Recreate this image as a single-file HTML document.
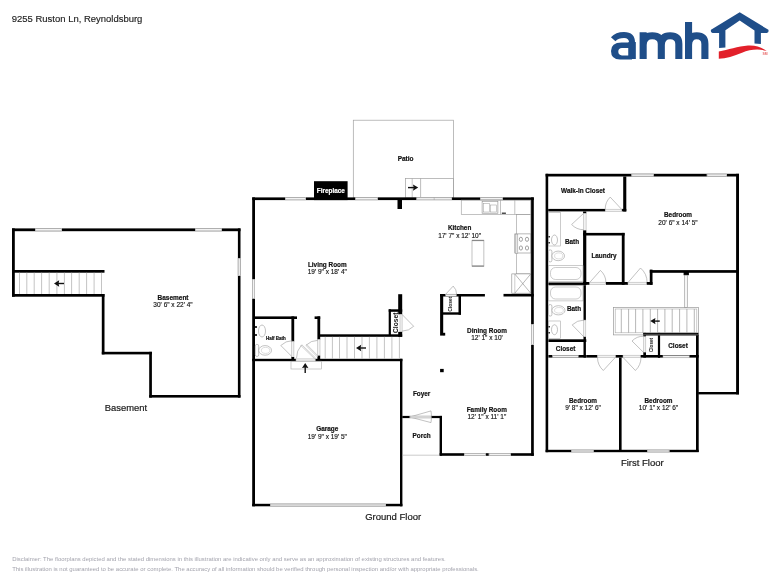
<!DOCTYPE html>
<html><head><meta charset="utf-8"><style>
html,body{margin:0;padding:0;background:#fff;width:784px;height:588px;overflow:hidden}
svg{display:block;font-family:"Liberation Sans",sans-serif;will-change:transform}
</style></head><body>
<svg width="784" height="588" viewBox="0 0 784 588" font-family="Liberation Sans, sans-serif">
<rect width="784" height="588" fill="#fff"/>
<text x="11.8" y="22" font-size="9.6" font-weight="normal" fill="#222" text-anchor="start" stroke="#222" stroke-width="0.15" textLength="130.6" lengthAdjust="spacingAndGlyphs">9255 Ruston Ln, Reynoldsburg</text>
<path d="M613.2,39.3 Q617,35 624,35 Q632.1,35 632.1,43 L632.1,59" fill="none" stroke="#1f4e89" stroke-width="6"/>
<path fill-rule="evenodd" fill="#1f4e89" d="M632,42.4 L621.5,42.4 Q611,42.4 611,51 Q611,59.5 620,59.5 L632,59.5 Z M628.6,47.9 L622,47.9 Q618.3,47.9 618.3,51.6 Q618.3,55.4 622,55.4 L628.6,55.4 Z"/>
<rect x="628.4" y="42" width="7.4" height="17" fill="#1f4e89"/>
<path d="M643.15,59 L643.15,32.3 M643.15,45 Q643.15,35.8 652.2,35.8 Q661.3,35.8 661.3,44 L661.3,59 M661.3,45 Q661.3,35.8 670.1,35.8 Q678.85,35.8 678.85,44 L678.85,59" fill="none" stroke="#1f4e89" stroke-width="7.1"/>
<path d="M688.55,59 L688.55,22.1 M688.55,45 Q688.55,35.8 696.7,35.8 Q704.9,35.8 704.9,44 L704.9,59" fill="none" stroke="#1f4e89" stroke-width="7.1"/>
<path d="M712.6,33 Q710.2,32.5 711,29.8 L739.7,12.3 L768.4,29.8 Q769.2,32.5 766.8,33 L760.9,33 L760.9,44 L754.5,43.4 L754.5,30.6 L739.7,20.6 L725.4,30.2 L725.4,47.5 L719.1,47.9 L719.1,33 Z" fill="#1f4e89"/>
<path d="M718.8,51.4 C728,50.2 738,46.3 748,45.6 C756,45.1 762,47.6 766.6,50.9 C758.5,48.6 750,49.4 742,52.8 C734,56.3 726,58.4 718.8,58.8 Z" fill="#e2202a"/>
<text x="765" y="54.6" font-size="3.4" font-weight="bold" fill="#e86a6a" text-anchor="middle">SM</text>
<rect x="12" y="228.4" width="228.5" height="2.8" fill="#000"/>
<rect x="12" y="228.4" width="2.8" height="68.3" fill="#000"/>
<rect x="12" y="270" width="92.5" height="2.7" fill="#000"/>
<rect x="12" y="294" width="92.5" height="2.7" fill="#000"/>
<rect x="101.8" y="294" width="2.7" height="60.4" fill="#000"/>
<rect x="101.8" y="351.8" width="50.1" height="2.6" fill="#000"/>
<rect x="149.2" y="351.8" width="2.7" height="45.8" fill="#000"/>
<rect x="149.2" y="395" width="91.3" height="2.6" fill="#000"/>
<rect x="237.9" y="228.4" width="2.6" height="169.2" fill="#000"/>
<rect x="35" y="228.4" width="27" height="2.8" fill="#fff"/>
<rect x="35.3" y="228.70000000000002" width="26.4" height="2.2" fill="#f3f3f3" stroke="#999" stroke-width="0.6"/>
<rect x="195" y="228.4" width="27" height="2.8" fill="#fff"/>
<rect x="195.3" y="228.70000000000002" width="26.4" height="2.2" fill="#f3f3f3" stroke="#999" stroke-width="0.6"/>
<rect x="237.9" y="258" width="2.6" height="18" fill="#fff"/>
<rect x="238.20000000000002" y="258.3" width="2.0" height="17.4" fill="#f3f3f3" stroke="#999" stroke-width="0.6"/>
<line x1="19.5" y1="272.7" x2="19.5" y2="294" stroke="#aaa" stroke-width="0.7"/>
<line x1="26.8" y1="272.7" x2="26.8" y2="294" stroke="#aaa" stroke-width="0.7"/>
<line x1="34.2" y1="272.7" x2="34.2" y2="294" stroke="#aaa" stroke-width="0.7"/>
<line x1="41.6" y1="272.7" x2="41.6" y2="294" stroke="#aaa" stroke-width="0.7"/>
<line x1="49.2" y1="272.7" x2="49.2" y2="294" stroke="#aaa" stroke-width="0.7"/>
<line x1="56.9" y1="272.7" x2="56.9" y2="294" stroke="#aaa" stroke-width="0.7"/>
<line x1="64.4" y1="272.7" x2="64.4" y2="294" stroke="#aaa" stroke-width="0.7"/>
<line x1="71.6" y1="272.7" x2="71.6" y2="294" stroke="#aaa" stroke-width="0.7"/>
<line x1="79.2" y1="272.7" x2="79.2" y2="294" stroke="#aaa" stroke-width="0.7"/>
<line x1="86.6" y1="272.7" x2="86.6" y2="294" stroke="#aaa" stroke-width="0.7"/>
<line x1="94.1" y1="272.7" x2="94.1" y2="294" stroke="#aaa" stroke-width="0.7"/>
<line x1="101.5" y1="272.7" x2="101.5" y2="294" stroke="#aaa" stroke-width="0.7"/>
<path d="M64.0,283.5 L56.0,283.5" stroke="#111" stroke-width="1.4"/>
<path d="M54.0,283.5 L59.2,280.3 L58.576,283.5 L59.2,286.7 Z" fill="#111"/>
<text x="173" y="299.9" font-size="6.5" font-weight="bold" fill="#111" text-anchor="middle" stroke="#111" stroke-width="0.18" >Basement</text>
<text x="173" y="306.9" font-size="6.5" font-weight="normal" fill="#111" text-anchor="middle" stroke="#111" stroke-width="0.14" >30' 6" x 22' 4"</text>
<text x="104.8" y="411.1" font-size="9.4" font-weight="normal" fill="#1a1a1a" text-anchor="start" stroke="#1a1a1a" stroke-width="0.2">Basement</text>
<rect x="353.3" y="120.2" width="100.2" height="77.8" fill="none" stroke="#a0a0a0" stroke-width="0.7"/>
<rect x="405.6" y="178.4" width="47.9" height="19.6" fill="none" stroke="#a0a0a0" stroke-width="0.7"/>
<line x1="420.6" y1="178.4" x2="420.6" y2="198" stroke="#a0a0a0" stroke-width="0.7"/>
<line x1="412.2" y1="178.4" x2="412.2" y2="198" stroke="#a0a0a0" stroke-width="0.6"/>
<path d="M408.0,187.6 L416.20000000000005,187.6" stroke="#111" stroke-width="1.4"/>
<path d="M418.20000000000005,187.6 L413.00000000000006,184.4 L413.624,187.6 L413.00000000000006,190.79999999999998 Z" fill="#111"/>
<text x="405.6" y="161.2" font-size="6.5" font-weight="bold" fill="#111" text-anchor="middle" stroke="#111" stroke-width="0.18" >Patio</text>
<rect x="252.2" y="197.4" width="281.6" height="2.7" fill="#000"/>
<rect x="285" y="197.4" width="21" height="2.7" fill="#fff"/>
<rect x="285.3" y="197.70000000000002" width="20.4" height="2.1" fill="#f3f3f3" stroke="#999" stroke-width="0.6"/>
<rect x="355.3" y="197.4" width="22.5" height="2.7" fill="#fff"/>
<rect x="355.6" y="197.70000000000002" width="21.9" height="2.1" fill="#f3f3f3" stroke="#999" stroke-width="0.6"/>
<rect x="480" y="197.4" width="22.8" height="2.7" fill="#fff"/>
<rect x="480.3" y="197.70000000000002" width="22.2" height="2.1" fill="#f3f3f3" stroke="#999" stroke-width="0.6"/>
<rect x="416.5" y="197.4" width="35.5" height="2.7" fill="#fff"/>
<rect x="416.8" y="197.7" width="35" height="2.1" fill="#eee" stroke="#999" stroke-width="0.5"/>
<line x1="434.2" y1="197.6" x2="434.2" y2="200" stroke="#999" stroke-width="0.5"/>
<rect x="314" y="181.2" width="33.6" height="18.9" fill="#000"/>
<text x="330.8" y="193.4" font-size="6.4" font-weight="bold" fill="#fff" text-anchor="middle" stroke="#fff" stroke-width="0.18" >Fireplace</text>
<rect x="252.2" y="197.4" width="2.8" height="308.9" fill="#000"/>
<rect x="252.2" y="279" width="2.8" height="19.7" fill="#fff"/>
<rect x="252.5" y="279.3" width="2.2" height="19.1" fill="#f3f3f3" stroke="#999" stroke-width="0.6"/>
<rect x="531.1" y="197.4" width="2.7" height="258.4" fill="#000"/>
<rect x="531.1" y="324" width="2.7" height="21" fill="#fff"/>
<rect x="531.4" y="324.3" width="2.1" height="20.4" fill="#f3f3f3" stroke="#999" stroke-width="0.6"/>
<rect x="397.5" y="200" width="4.5" height="9" fill="#000"/>
<rect x="255" y="316.4" width="42" height="2.6" fill="#000"/>
<rect x="291.4" y="316.4" width="2.8" height="25.1" fill="#000"/>
<rect x="291.7" y="341.5" width="2.2" height="15.8" fill="#f2f2f2" stroke="#aaa" stroke-width="0.5"/>
<rect x="291.4" y="357" width="2.8" height="4" fill="#000"/>
<rect x="252.2" y="358.8" width="43.8" height="2.4" fill="#000"/>
<rect x="315.2" y="358.8" width="87.2" height="2.4" fill="#000"/>
<rect x="296" y="358.9" width="19.2" height="2.2" fill="#f2f2f2" stroke="#aaa" stroke-width="0.5"/>
<rect x="314.6" y="316.4" width="5.6" height="2.6" fill="#000"/>
<rect x="317.4" y="316.4" width="2.8" height="23.1" fill="#000"/>
<rect x="317.6" y="339.5" width="2.4" height="16.4" fill="#f2f2f2" stroke="#aaa" stroke-width="0.5"/>
<rect x="317.4" y="355.7" width="2.8" height="5.3" fill="#000"/>
<path d="M292.3,357 L280.8,345.5 A16.26,16.26 0 0 1 292.3,340.7" fill="none" stroke="#999" stroke-width="0.6"/>
<path d="M315.42,357.87 L301.82,344.77 L300.98,345.63 L314.58,358.73 Z" fill="#fff" stroke="#999" stroke-width="0.5"/>
<path d="M301.4,345.2 A18.88,18.88 0 0 0 296.5,358.3" fill="none" stroke="#999" stroke-width="0.6"/>
<path d="M318.03,355.88 L306.83,344.58 L305.97,345.42 L317.17,356.72 Z" fill="#fff" stroke="#999" stroke-width="0.5"/>
<path d="M306.4,345 A15.91,15.91 0 0 1 317.6,340.4" fill="none" stroke="#999" stroke-width="0.6"/>
<rect x="320" y="334.3" width="82.2" height="2.5" fill="#000"/>
<line x1="325.2" y1="336.8" x2="325.2" y2="358.8" stroke="#aaa" stroke-width="0.7"/>
<line x1="332.4" y1="336.8" x2="332.4" y2="358.8" stroke="#aaa" stroke-width="0.7"/>
<line x1="339.5" y1="336.8" x2="339.5" y2="358.8" stroke="#aaa" stroke-width="0.7"/>
<line x1="347" y1="336.8" x2="347" y2="358.8" stroke="#aaa" stroke-width="0.7"/>
<line x1="354.5" y1="336.8" x2="354.5" y2="358.8" stroke="#aaa" stroke-width="0.7"/>
<line x1="362" y1="336.8" x2="362" y2="358.8" stroke="#aaa" stroke-width="0.7"/>
<line x1="369.4" y1="336.8" x2="369.4" y2="358.8" stroke="#aaa" stroke-width="0.7"/>
<line x1="376.9" y1="336.8" x2="376.9" y2="358.8" stroke="#aaa" stroke-width="0.7"/>
<line x1="384.4" y1="336.8" x2="384.4" y2="358.8" stroke="#aaa" stroke-width="0.7"/>
<line x1="391.9" y1="336.8" x2="391.9" y2="358.8" stroke="#aaa" stroke-width="0.7"/>
<line x1="399.4" y1="336.8" x2="399.4" y2="358.8" stroke="#aaa" stroke-width="0.7"/>
<path d="M366.0,348 L358.0,348" stroke="#111" stroke-width="1.4"/>
<path d="M356.0,348 L361.2,344.8 L360.576,348 L361.2,351.2 Z" fill="#111"/>
<rect x="388.7" y="309.3" width="2.2" height="26.7" fill="#000"/>
<rect x="388.7" y="309.3" width="13.5" height="2.5" fill="#000"/>
<rect x="398.2" y="294.2" width="4.0" height="20.1" fill="#000"/>
<rect x="400" y="314.3" width="2.1" height="17.7" fill="#f2f2f2" stroke="#aaa" stroke-width="0.5"/>
<rect x="398.2" y="331.9" width="4.0" height="4.9" fill="#000"/>
<path d="M402.1,314.5 L413.7,326.3 A16.55,16.55 0 0 1 402.1,331.1" fill="none" stroke="#999" stroke-width="0.6"/>
<text x="0" y="0" font-size="6.7" font-weight="bold" fill="#111" text-anchor="middle" transform="translate(397.8,322.8) rotate(-90)">Closet</text>
<ellipse cx="262" cy="331" rx="3.5" ry="6" fill="none" stroke="#999" stroke-width="0.6"/>
<rect x="255" y="326" width="2" height="2" fill="#333"/>
<rect x="255" y="334" width="2" height="2" fill="#333"/>
<rect x="255.3" y="344.4" width="3.4" height="12" rx="1.5" fill="#fff" stroke="#999" stroke-width="0.6"/>
<ellipse cx="265.1" cy="350.4" rx="6.4" ry="4.8" fill="#fff" stroke="#999" stroke-width="0.6"/>
<ellipse cx="265.6" cy="350.4" rx="4.2" ry="3.0" fill="none" stroke="#bbb" stroke-width="0.5"/>
<text x="276" y="340.4" font-size="4.5" font-weight="bold" fill="#111" text-anchor="middle" stroke="#111" stroke-width="0.18" >Half Bath</text>
<rect x="291" y="361.2" width="30.3" height="7.8" fill="none" stroke="#aaa" stroke-width="0.6"/>
<path d="M305.2,372.9 L305.2,364.9" stroke="#111" stroke-width="1.4"/>
<path d="M305.2,362.9 L302.0,368.09999999999997 L305.2,367.476 L308.4,368.09999999999997 Z" fill="#111"/>
<rect x="400" y="358.8" width="2.4" height="147.5" fill="#000"/>
<rect x="252.2" y="503.8" width="150.2" height="2.5" fill="#000"/>
<rect x="270" y="503.8" width="116" height="2.5" fill="#fff"/>
<rect x="270.3" y="504.1" width="115.4" height="1.9" fill="#f3f3f3" stroke="#999" stroke-width="0.6"/>
<text x="327.3" y="431.3" font-size="6.4" font-weight="bold" fill="#111" text-anchor="middle" stroke="#111" stroke-width="0.18" >Garage</text>
<text x="327.3" y="438.8" font-size="6.5" font-weight="normal" fill="#111" text-anchor="middle" stroke="#111" stroke-width="0.14" >19' 9" x 19' 5"</text>
<text x="327.3" y="266.6" font-size="6.4" font-weight="bold" fill="#111" text-anchor="middle" stroke="#111" stroke-width="0.18" >Living Room</text>
<text x="327.3" y="273.9" font-size="6.5" font-weight="normal" fill="#111" text-anchor="middle" stroke="#111" stroke-width="0.14" >19' 9" x 18' 4"</text>
<rect x="461.25" y="200.1" width="69.45" height="14.2" fill="none" stroke="#999" stroke-width="0.6"/>
<line x1="500.5" y1="200.1" x2="500.5" y2="214.3" stroke="#999" stroke-width="0.6"/>
<line x1="514.8" y1="200.1" x2="514.8" y2="214.3" stroke="#999" stroke-width="0.6"/>
<rect x="482.1" y="201.25" width="15.8" height="11.95" fill="none" stroke="#888" stroke-width="0.6"/>
<rect x="483.5" y="203.5" width="6" height="8.5" fill="none" stroke="#999" stroke-width="0.5"/>
<rect x="490.5" y="205" width="6" height="7" fill="none" stroke="#999" stroke-width="0.5"/>
<rect x="501.8" y="212.6" width="4.1" height="1.2" fill="#222"/>
<rect x="516.6" y="214.3" width="14.1" height="59.6" fill="none" stroke="#999" stroke-width="0.6"/>
<rect x="514.8" y="233.9" width="15.9" height="19.1" fill="#fff" stroke="#888" stroke-width="0.6"/>
<rect x="515.3" y="234.2" width="2.5" height="19.2" fill="#e6e6e6" stroke="#999" stroke-width="0.5"/>
<ellipse cx="520.9" cy="239.3" rx="1.6" ry="2.1" fill="none" stroke="#666" stroke-width="0.6"/>
<ellipse cx="520.9" cy="248" rx="1.6" ry="2.1" fill="none" stroke="#666" stroke-width="0.6"/>
<ellipse cx="527" cy="239.3" rx="1.6" ry="2.1" fill="none" stroke="#666" stroke-width="0.6"/>
<ellipse cx="527" cy="248" rx="1.6" ry="2.1" fill="none" stroke="#666" stroke-width="0.6"/>
<rect x="511.8" y="273.9" width="18.9" height="19.3" fill="#fff" stroke="#888" stroke-width="0.6"/>
<line x1="514.8" y1="274" x2="514.8" y2="293.2" stroke="#aaa" stroke-width="0.6"/>
<line x1="514.8" y1="274" x2="530.7" y2="293.2" stroke="#888" stroke-width="0.6"/>
<line x1="530.7" y1="274" x2="514.8" y2="293.2" stroke="#888" stroke-width="0.6"/>
<rect x="472" y="240.2" width="11.9" height="26.2" fill="none" stroke="#999" stroke-width="0.6"/>
<line x1="472" y1="240.5" x2="483.9" y2="240.5" stroke="#888" stroke-width="1.2"/>
<line x1="472" y1="266" x2="483.9" y2="266" stroke="#888" stroke-width="1.2"/>
<text x="459.6" y="230.2" font-size="6.4" font-weight="bold" fill="#111" text-anchor="middle" stroke="#111" stroke-width="0.18" >Kitchen</text>
<text x="459.6" y="237.9" font-size="6.5" font-weight="normal" fill="#111" text-anchor="middle" stroke="#111" stroke-width="0.14" >17' 7" x 12' 10"</text>
<rect x="440.1" y="294" width="44.8" height="2.5" fill="#000"/>
<rect x="503.5" y="293.9" width="30.3" height="2.6" fill="#000"/>
<rect x="440.1" y="294" width="3.1" height="41.6" fill="#000"/>
<rect x="443" y="332.8" width="2.2" height="2.8" fill="#000"/>
<rect x="458.5" y="294" width="2.5" height="20.7" fill="#000"/>
<rect x="443" y="312.3" width="18" height="2.4" fill="#000"/>
<rect x="445.7" y="294.2" width="10.7" height="2" fill="#f2f2f2" stroke="#aaa" stroke-width="0.5"/>
<path d="M445.7,294.2 L453.2,286.1 A11.04,11.04 0 0 1 456.6,294.2" fill="none" stroke="#999" stroke-width="0.6"/>
<text x="0" y="0" font-size="5" font-weight="bold" fill="#111" text-anchor="middle" transform="translate(452.3,304.2) rotate(-90)">Closet</text>
<rect x="440.1" y="368.9" width="3.6" height="3.3" fill="#000"/>
<text x="487" y="332.8" font-size="6.4" font-weight="bold" fill="#111" text-anchor="middle" stroke="#111" stroke-width="0.18" >Dining Room</text>
<text x="487" y="340.2" font-size="6.5" font-weight="normal" fill="#111" text-anchor="middle" stroke="#111" stroke-width="0.14" >12' 1" x 10'</text>
<text x="421.6" y="396.4" font-size="6.4" font-weight="bold" fill="#111" text-anchor="middle" stroke="#111" stroke-width="0.18" >Foyer</text>
<rect x="402.3" y="415.9" width="39.7" height="2.2" fill="#000"/>
<rect x="409.7" y="415.9" width="21.4" height="2.2" fill="#fff"/>
<path d="M409.7,417 L431,410.9 Q432.2,416.7 431,422.6 Z" fill="none" stroke="#999" stroke-width="0.6"/>
<rect x="410.5" y="416.2" width="20.5" height="1.6" fill="#eee" stroke="#aaa" stroke-width="0.4"/>
<rect x="439.6" y="415.9" width="2.4" height="39.8" fill="#000"/>
<rect x="439.6" y="453.2" width="94.2" height="2.6" fill="#000"/>
<rect x="464" y="453.2" width="21.8" height="2.6" fill="#fff"/>
<rect x="464.3" y="453.5" width="21.2" height="2.0" fill="#f3f3f3" stroke="#999" stroke-width="0.6"/>
<rect x="488.8" y="453.2" width="22.2" height="2.6" fill="#fff"/>
<rect x="489.1" y="453.5" width="21.6" height="2.0" fill="#f3f3f3" stroke="#999" stroke-width="0.6"/>
<line x1="402.4" y1="455.2" x2="439.4" y2="455.2" stroke="#aaa" stroke-width="0.6"/>
<text x="486.8" y="412.3" font-size="6.4" font-weight="bold" fill="#111" text-anchor="middle" stroke="#111" stroke-width="0.18" >Family Room</text>
<text x="486.8" y="419.0" font-size="6.5" font-weight="normal" fill="#111" text-anchor="middle" stroke="#111" stroke-width="0.14" >12' 1" x 11' 1"</text>
<text x="421.6" y="438.0" font-size="6.4" font-weight="bold" fill="#111" text-anchor="middle" stroke="#111" stroke-width="0.18" >Porch</text>
<text x="393.2" y="520.4" font-size="9.5" font-weight="normal" fill="#1a1a1a" text-anchor="middle" stroke="#1a1a1a" stroke-width="0.2">Ground Floor</text>
<rect x="545.6" y="173.8" width="193.4" height="2.7" fill="#000"/>
<rect x="631.5" y="173.8" width="22.2" height="2.7" fill="#fff"/>
<rect x="631.8" y="174.10000000000002" width="21.6" height="2.1" fill="#f3f3f3" stroke="#999" stroke-width="0.6"/>
<rect x="706.8" y="173.8" width="20.1" height="2.7" fill="#fff"/>
<rect x="707.0999999999999" y="174.10000000000002" width="19.5" height="2.1" fill="#f3f3f3" stroke="#999" stroke-width="0.6"/>
<rect x="545.6" y="173.8" width="2.6" height="278.4" fill="#000"/>
<rect x="736.1" y="173.8" width="2.9" height="220.6" fill="#000"/>
<rect x="698.2" y="392" width="40.8" height="2.4" fill="#000"/>
<rect x="696" y="333" width="2.7" height="119" fill="#000"/>
<rect x="545.6" y="449.8" width="153.1" height="2.4" fill="#000"/>
<rect x="571.4" y="449.8" width="22.2" height="2.4" fill="#fff"/>
<rect x="571.6999999999999" y="450.1" width="21.6" height="1.8" fill="#f3f3f3" stroke="#999" stroke-width="0.6"/>
<rect x="647.2" y="449.8" width="22.2" height="2.4" fill="#fff"/>
<rect x="647.5" y="450.1" width="21.6" height="1.8" fill="#f3f3f3" stroke="#999" stroke-width="0.6"/>
<rect x="623.2" y="176.5" width="3.1" height="35.0" fill="#000"/>
<rect x="548.2" y="208.9" width="57.1" height="2.5" fill="#000"/>
<rect x="621.8" y="208.9" width="4.5" height="2.5" fill="#000"/>
<rect x="605.3" y="209.2" width="16.5" height="2.1" fill="#f2f2f2" stroke="#aaa" stroke-width="0.5"/>
<path d="M621.8,209.5 L610.2,197.1 A16.98,16.98 0 0 0 605.2,209.5" fill="none" stroke="#999" stroke-width="0.6"/>
<text x="583" y="193.1" font-size="6.4" font-weight="bold" fill="#111" text-anchor="middle" stroke="#111" stroke-width="0.18" >Walk-In Closet</text>
<rect x="583.1" y="211.5" width="3.2" height="1.9" fill="#000"/>
<rect x="583.3" y="213.4" width="2.8" height="17" fill="#f2f2f2" stroke="#aaa" stroke-width="0.5"/>
<path d="M583.6,213.4 L571.6,224.5 A16.35,16.35 0 0 0 583.6,229.7" fill="none" stroke="#999" stroke-width="0.6"/>
<rect x="583.1" y="230.4" width="3.2" height="54.4" fill="#000"/>
<rect x="583.1" y="232.9" width="41.5" height="2.6" fill="#000"/>
<rect x="621.8" y="232.9" width="2.8" height="51.9" fill="#000"/>
<rect x="583.1" y="282" width="6.6" height="2.8" fill="#000"/>
<rect x="589.7" y="282.2" width="15.7" height="2.4" fill="#f2f2f2" stroke="#aaa" stroke-width="0.5"/>
<path d="M589.7,282.5 L600.4,270.4 A16.15,16.15 0 0 1 605.9,282.5" fill="none" stroke="#999" stroke-width="0.6"/>
<rect x="605.9" y="282" width="22.1" height="2.8" fill="#000"/>
<rect x="628" y="282.2" width="18.8" height="2.4" fill="#f2f2f2" stroke="#aaa" stroke-width="0.5"/>
<path d="M628,282.5 L640.5,268 A19.14,19.14 0 0 1 647.1,282.5" fill="none" stroke="#999" stroke-width="0.6"/>
<rect x="646.8" y="282" width="5.7" height="2.8" fill="#000"/>
<rect x="649.8" y="269.6" width="2.7" height="15.2" fill="#000"/>
<rect x="649.8" y="270.1" width="89.2" height="2.7" fill="#000"/>
<rect x="683.6" y="271" width="5.3" height="4.2" fill="#000"/>
<rect x="684.4" y="275.2" width="3.2" height="32.2" fill="#f6f6f6" stroke="#999" stroke-width="0.6"/>
<text x="572" y="244.1" font-size="6.4" font-weight="bold" fill="#111" text-anchor="middle" stroke="#111" stroke-width="0.18" >Bath</text>
<text x="678" y="216.9" font-size="6.4" font-weight="bold" fill="#111" text-anchor="middle" stroke="#111" stroke-width="0.18" >Bedroom</text>
<text x="678" y="224.9" font-size="6.5" font-weight="normal" fill="#111" text-anchor="middle" stroke="#111" stroke-width="0.14" >20' 6" x 14' 5"</text>
<text x="604" y="258.4" font-size="6.4" font-weight="bold" fill="#111" text-anchor="middle" stroke="#111" stroke-width="0.18" >Laundry</text>
<rect x="548.4" y="212.5" width="12" height="33.5" fill="none" stroke="#aaa" stroke-width="0.6"/>
<ellipse cx="554.5" cy="240" rx="3" ry="5" fill="none" stroke="#999" stroke-width="0.6"/>
<rect x="548.4" y="236" width="1.6" height="1.5" fill="#333"/>
<rect x="548.4" y="242" width="1.6" height="1.5" fill="#333"/>
<rect x="548.5" y="249.9" width="3.4" height="12" rx="1.5" fill="#fff" stroke="#999" stroke-width="0.6"/>
<ellipse cx="558.2" cy="255.9" rx="6.3" ry="4.8" fill="#fff" stroke="#999" stroke-width="0.6"/>
<ellipse cx="558.7" cy="255.9" rx="4.1" ry="3.0" fill="none" stroke="#bbb" stroke-width="0.5"/>
<rect x="548.6" y="265.7" width="34.4" height="15.7" fill="none" stroke="#aaa" stroke-width="0.6"/>
<rect x="550.5" y="267.5" width="30.5" height="12" rx="5" fill="none" stroke="#aaa" stroke-width="0.6"/>
<rect x="548.4" y="282.5" width="37.9" height="2.7" fill="#000"/>
<rect x="548.6" y="285.2" width="34.4" height="15.7" fill="none" stroke="#aaa" stroke-width="0.6"/>
<rect x="550.5" y="287" width="30.5" height="12" rx="5" fill="none" stroke="#aaa" stroke-width="0.6"/>
<rect x="548.5" y="304.55" width="3.4" height="11.5" rx="1.5" fill="#fff" stroke="#999" stroke-width="0.6"/>
<ellipse cx="558.45" cy="310.3" rx="6.55" ry="4.6" fill="#fff" stroke="#999" stroke-width="0.6"/>
<ellipse cx="558.95" cy="310.3" rx="4.35" ry="2.8" fill="none" stroke="#bbb" stroke-width="0.5"/>
<rect x="548.4" y="321" width="12" height="17.5" fill="none" stroke="#aaa" stroke-width="0.6"/>
<ellipse cx="554.5" cy="329.7" rx="3" ry="5" fill="none" stroke="#999" stroke-width="0.6"/>
<rect x="548.4" y="326" width="1.6" height="1.5" fill="#333"/>
<rect x="548.4" y="332" width="1.6" height="1.5" fill="#333"/>
<rect x="583.5" y="285.2" width="2.4" height="34.9" fill="#000"/>
<rect x="583.6" y="320.1" width="2.2" height="16.8" fill="#f2f2f2" stroke="#aaa" stroke-width="0.5"/>
<path d="M584,337 L572.2,324.9 A16.9,16.9 0 0 1 584,320.1" fill="none" stroke="#999" stroke-width="0.6"/>
<rect x="583.5" y="336.9" width="2.4" height="20.7" fill="#000"/>
<text x="574" y="311.1" font-size="6.4" font-weight="bold" fill="#111" text-anchor="middle" stroke="#111" stroke-width="0.18" >Bath</text>
<rect x="548.4" y="339.3" width="37.9" height="2.7" fill="#000"/>
<text x="565.6" y="351.2" font-size="6.4" font-weight="bold" fill="#111" text-anchor="middle" stroke="#111" stroke-width="0.18" >Closet</text>
<rect x="548.4" y="355" width="37.9" height="2.6" fill="#000"/>
<rect x="552.5" y="355.3" width="25.8" height="2.2" fill="#f2f2f2" stroke="#aaa" stroke-width="0.5"/>
<rect x="586.3" y="355" width="11.2" height="2.6" fill="#000"/>
<rect x="597.5" y="355.2" width="18.3" height="2.2" fill="#f2f2f2" stroke="#aaa" stroke-width="0.5"/>
<path d="M615.3,357.4 L603.3,370.5 A17.77,17.77 0 0 1 597.5,357.4" fill="none" stroke="#999" stroke-width="0.6"/>
<rect x="615.8" y="355" width="7.2" height="2.6" fill="#000"/>
<rect x="623" y="355.2" width="17.7" height="2.2" fill="#f2f2f2" stroke="#aaa" stroke-width="0.5"/>
<path d="M623,357.4 L635.4,370.5 A18.04,18.04 0 0 0 641,357.4" fill="none" stroke="#999" stroke-width="0.6"/>
<rect x="640.7" y="355" width="58.0" height="2.6" fill="#000"/>
<rect x="619" y="357.6" width="2.6" height="94.4" fill="#000"/>
<rect x="643.3" y="332.8" width="55.4" height="2.7" fill="#000"/>
<rect x="643.3" y="332.8" width="2.7" height="3.9" fill="#000"/>
<rect x="643.5" y="336.7" width="2.3" height="15.7" fill="#f2f2f2" stroke="#aaa" stroke-width="0.5"/>
<path d="M643.5,352.4 L632,341 A16.19,16.19 0 0 1 643.5,336.2" fill="none" stroke="#999" stroke-width="0.6"/>
<rect x="643.3" y="352.4" width="2.7" height="5.2" fill="#000"/>
<rect x="657.9" y="332.8" width="2.2" height="25.0" fill="#000"/>
<rect x="663" y="355.6" width="26.2" height="2.2" fill="#f2f2f2" stroke="#aaa" stroke-width="0.5"/>
<text x="0" y="0" font-size="4.6" font-weight="bold" fill="#111" text-anchor="middle" transform="translate(652.7,345) rotate(-90)">Closet</text>
<text x="678" y="347.7" font-size="6.4" font-weight="bold" fill="#111" text-anchor="middle" stroke="#111" stroke-width="0.18" >Closet</text>
<rect x="613.6" y="307.4" width="84.8" height="27.5" fill="none" stroke="#999" stroke-width="0.7"/>
<rect x="615.2" y="309" width="81.6" height="23.8" fill="none" stroke="#aaa" stroke-width="0.6"/>
<line x1="621.3" y1="309" x2="621.3" y2="332.8" stroke="#999" stroke-width="0.7"/>
<line x1="628.6" y1="309" x2="628.6" y2="332.8" stroke="#999" stroke-width="0.7"/>
<line x1="635.6" y1="309" x2="635.6" y2="332.8" stroke="#999" stroke-width="0.7"/>
<line x1="642.9" y1="309" x2="642.9" y2="332.8" stroke="#999" stroke-width="0.7"/>
<line x1="650.3" y1="309" x2="650.3" y2="332.8" stroke="#999" stroke-width="0.7"/>
<line x1="657.6" y1="309" x2="657.6" y2="332.8" stroke="#999" stroke-width="0.7"/>
<line x1="664.9" y1="309" x2="664.9" y2="332.8" stroke="#999" stroke-width="0.7"/>
<line x1="672.2" y1="309" x2="672.2" y2="332.8" stroke="#999" stroke-width="0.7"/>
<line x1="679.6" y1="309" x2="679.6" y2="332.8" stroke="#999" stroke-width="0.7"/>
<line x1="686.9" y1="309" x2="686.9" y2="332.8" stroke="#999" stroke-width="0.7"/>
<line x1="694.3" y1="309" x2="694.3" y2="332.8" stroke="#999" stroke-width="0.7"/>
<path d="M659.75,321.1 L652.25,321.1" stroke="#111" stroke-width="1.4"/>
<path d="M650.25,321.1 L655.45,317.90000000000003 L654.826,321.1 L655.45,324.3 Z" fill="#111"/>
<text x="583" y="403.2" font-size="6.4" font-weight="bold" fill="#111" text-anchor="middle" stroke="#111" stroke-width="0.18" >Bedroom</text>
<text x="583" y="409.9" font-size="6.5" font-weight="normal" fill="#111" text-anchor="middle" stroke="#111" stroke-width="0.14" >9' 8" x 12' 6"</text>
<text x="658.5" y="403.2" font-size="6.4" font-weight="bold" fill="#111" text-anchor="middle" stroke="#111" stroke-width="0.18" >Bedroom</text>
<text x="658.5" y="409.9" font-size="6.5" font-weight="normal" fill="#111" text-anchor="middle" stroke="#111" stroke-width="0.14" >10' 1" x 12' 6"</text>
<text x="642.3" y="466.2" font-size="9.5" font-weight="normal" fill="#1a1a1a" text-anchor="middle" stroke="#1a1a1a" stroke-width="0.2">First Floor</text>
<text x="12.2" y="561.4" font-size="5.94" font-weight="normal" fill="#a3a3ad" text-anchor="start" >Disclaimer: The floorplans depicted and the stated dimensions in this illustration are indicative only and serve as an approximation of existing structures and features.</text>
<text x="12.2" y="571.3" font-size="5.94" font-weight="normal" fill="#a3a3ad" text-anchor="start" >This illustration is not guaranteed to be accurate or complete. The accuracy of all information should be verified through personal inspection and/or with appropriate professionals.</text>
</svg>
</body></html>
